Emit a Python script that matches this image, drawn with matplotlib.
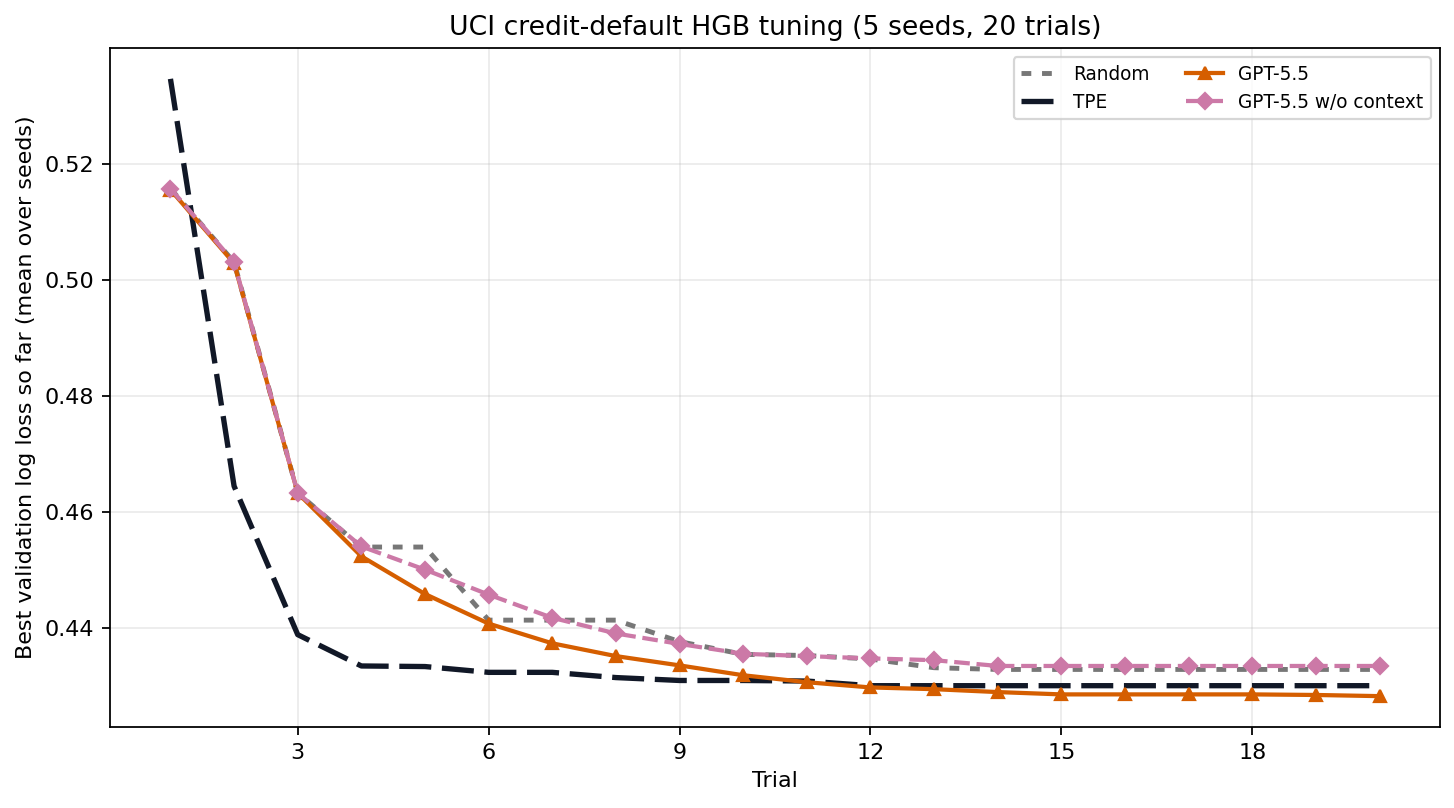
import matplotlib

matplotlib.use("Agg")
import matplotlib.pyplot as plt

trials = list(range(1, 21))

random_loss = [
    0.5157, 0.5030, 0.4632, 0.4539, 0.4539, 0.4413, 0.4413, 0.4413, 0.4376, 0.4354,
    0.4352, 0.4346, 0.4331, 0.4328, 0.4328, 0.4328, 0.4328, 0.4328, 0.4328, 0.4328,
]
tpe_loss = [
    0.5346, 0.4644, 0.4388, 0.4334, 0.4333, 0.4323, 0.4323, 0.4314, 0.4309, 0.4309,
    0.4308, 0.4300, 0.4300, 0.4300, 0.4300, 0.4300, 0.4300, 0.4300, 0.4300, 0.4300,
]
gpt_loss = [
    0.5155, 0.5028, 0.4632, 0.4523, 0.4458, 0.4407, 0.4373, 0.4351, 0.4335, 0.4318,
    0.4306, 0.4297, 0.4294, 0.4289, 0.4285, 0.4285, 0.4285, 0.4285, 0.4284, 0.4282,
]
gpt_noctx_loss = [
    0.5157, 0.5030, 0.4632, 0.4540, 0.4500, 0.4457, 0.4417, 0.4390, 0.4372, 0.4355,
    0.4351, 0.4347, 0.4344, 0.4334, 0.4334, 0.4334, 0.4334, 0.4334, 0.4334, 0.4334,
]
x_ticks = [3, 6, 9, 12, 15, 18]
y_ticks = [0.44, 0.46, 0.48, 0.50, 0.52]

DPI = 160
fig, ax = plt.subplots(figsize=(1454 / DPI, 808 / DPI), dpi=DPI)

ax.plot(trials, random_loss, color="#777777", linewidth=2.2,
        linestyle=(0, (2, 2.2)), label="Random")
ax.plot(trials, tpe_loss, color="#111827", linewidth=2.4,
        linestyle=(0, (6, 2)), label="TPE")
ax.plot(trials, gpt_loss, color="#d55e00", linewidth=1.9, marker="^",
        markersize=5.5, label="GPT-5.5")
ax.plot(trials, gpt_noctx_loss, color="#cc79a7", linewidth=1.9, linestyle="--",
        marker="D", markersize=5, label="GPT-5.5 w/o context")

ax.set_xticks(x_ticks)
ax.set_yticks(y_ticks)
ax.set_yticklabels([f"{v:.2f}" for v in y_ticks])
ax.set_xlabel("Trial")
ax.set_ylabel("Best validation log loss so far (mean over seeds)")
ax.set_title("UCI credit-default HGB tuning (5 seeds, 20 trials)")
ax.grid(alpha=0.25)
ax.legend(loc="upper right", ncol=2, fontsize="small")

fig.subplots_adjust(left=110 / 1454, right=1440 / 1454, top=1 - 48 / 808, bottom=1 - 727 / 808)
fig.savefig("out.png", dpi=DPI)
